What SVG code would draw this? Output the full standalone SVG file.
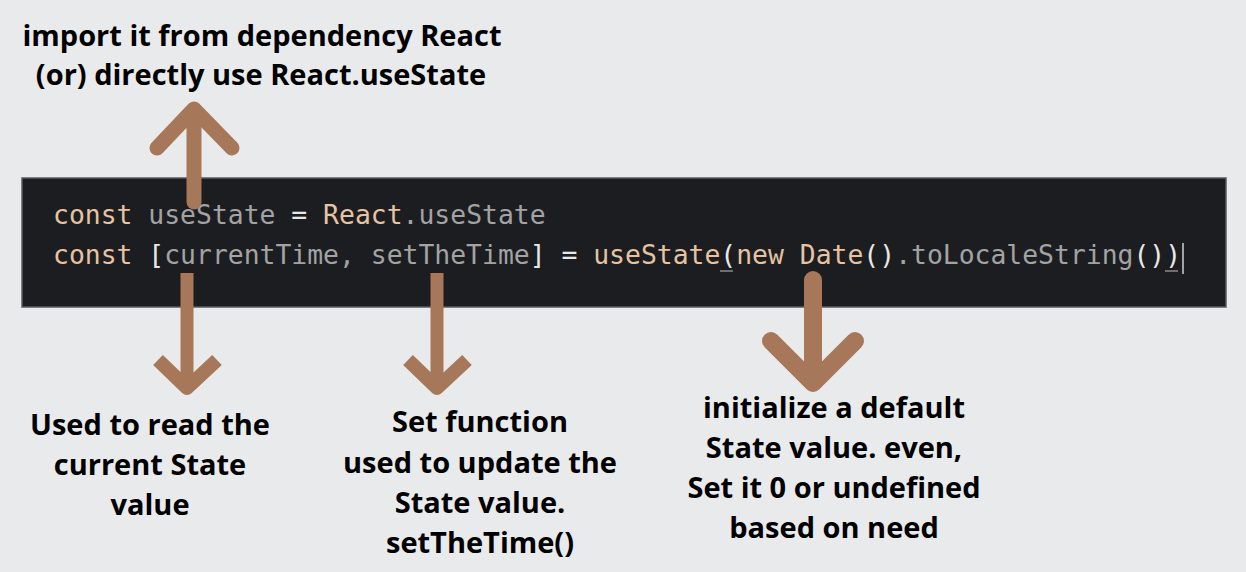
<svg xmlns="http://www.w3.org/2000/svg" width="1246" height="572" viewBox="0 0 1246 572">
<style>
.lbl{font-family:"Open Sans","Noto Sans",sans-serif;font-weight:700;font-size:29px;fill:#000;text-anchor:middle}
.code{font-family:"DejaVu Sans Mono","Liberation Mono",monospace;font-size:26.4px;white-space:pre}
.k{fill:#e6c3a2}
.g{fill:#a3a3a3}
.w{fill:#e8e8e8}
.arr{fill:none;stroke:#a77759}
</style>
<rect width="1246" height="572" fill="#e9eaec"/>
<g id="code-block">
<rect x="22" y="178" width="1204" height="129" fill="#1c1d21" stroke="#5a5b5e" stroke-width="1.5"/>
<text class="code" x="53" y="224" xml:space="preserve"><tspan class="k">const</tspan><tspan class="g"> useState </tspan><tspan class="w">=</tspan><tspan class="k"> React</tspan><tspan class="g">.useState</tspan></text>
<text class="code" x="53" y="264" xml:space="preserve"><tspan class="k">const </tspan><tspan class="w">[</tspan><tspan class="g">currentTime, setTheTime</tspan><tspan class="w">]</tspan><tspan class="w"> = </tspan><tspan class="k">useState</tspan><tspan class="w">(</tspan><tspan class="k">new Date</tspan><tspan class="w">()</tspan><tspan class="g">.toLocaleString</tspan><tspan class="w">())</tspan></text>
<line x1="720" y1="271" x2="733" y2="271" stroke="#8a8a8a" stroke-width="1.5"/>
<line x1="1165" y1="271" x2="1178" y2="271" stroke="#8a8a8a" stroke-width="1.5"/>
<line x1="1183" y1="243" x2="1183" y2="274" stroke="#d0d0d0" stroke-width="1.5"/>
</g>
<g id="connectors">
<path class="arr" d="M194 202V110" stroke-width="15" stroke-linecap="round"/>
<path class="arr" d="M157 148L194 109L232 148" stroke-width="15" stroke-linecap="round" stroke-linejoin="round"/>
<path class="arr" d="M187 273V385" stroke-width="13"/>
<path class="arr" d="M158 360L187 388L217 360" stroke-width="14" stroke-linejoin="round"/>
<path class="arr" d="M437 273V385" stroke-width="13"/>
<path class="arr" d="M408 360L437 388L467 360" stroke-width="14" stroke-linejoin="round"/>
<path class="arr" d="M813 280V382" stroke-width="18" stroke-linecap="round"/>
<path class="arr" d="M771 341L813 383L855 341" stroke-width="18" stroke-linecap="round" stroke-linejoin="round"/>
</g>
<g id="label-import">
<text class="lbl" x="262" y="46">import it from dependency React</text>
<text class="lbl" x="261" y="85">(or) directly use React.useState</text>
</g>
<g id="label-read">
<text class="lbl" x="150" y="435">Used to read the</text>
<text class="lbl" x="150" y="475">current State</text>
<text class="lbl" x="150" y="515">value</text>
</g>
<g id="label-set">
<text class="lbl" x="480" y="432">Set function</text>
<text class="lbl" x="480" y="473">used to update the</text>
<text class="lbl" x="480" y="513">State value.</text>
<text class="lbl" x="480" y="553">setTheTime()</text>
</g>
<g id="label-init">
<text class="lbl" x="834" y="418">initialize a default</text>
<text class="lbl" x="834" y="458">State value. even,</text>
<text class="lbl" x="834" y="498">Set it 0 or undefined</text>
<text class="lbl" x="834" y="538">based on need</text>
</g>
</svg>
